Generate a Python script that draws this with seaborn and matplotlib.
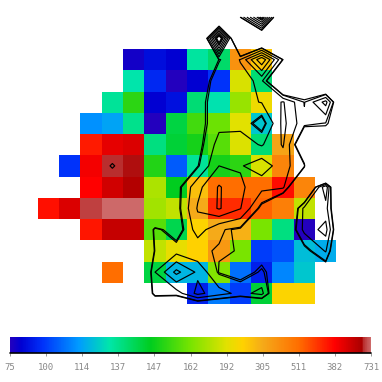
import matplotlib
matplotlib.use("Agg")
import matplotlib.pyplot as plt
import numpy as np
import seaborn as sns
from matplotlib.colors import LinearSegmentedColormap

n = np.nan

tick_labels = ["75", "100", "114", "137", "147", "162", "192", "305", "511", "382", "731"]

# cell values, as position on the colour scale (0-10)
cells = np.array([
    [n, n, n, n, n, n, n, n, n, n, n, n, n, n, n],
    [n, n, n, n, n, n, n, n, n, n, n, n, n, n, n],
    [n, n, n, n, .15, .45, .3, 2.85, 3.3, 7.4, 6.6, n, n, n, n],
    [n, n, n, n, 2.75, .8, 0, .3, .9, 5.9, 3.2, n, n, n, n],
    [n, n, n, 2.9, 4.3, .3, .5, 3.2, 2.7, 5.3, 6.2, n, n, n, n],
    [n, n, 1.8, 2.0, 3.0, 0, 3.6, 4.5, 4.9, 6.0, 2.4, n, n, n, n],
    [n, n, 8.75, 9.2, 9.3, 3.1, 3.7, 4.1, 4.7, 5.95, 3.2, 7.1, n, n, n],
    [n, .9, 9.1, 9.8, 9.75, 4.2, 1.3, 2.9, 4.1, 4.3, 5.9, 7.6, n, n, n],
    [n, n, 9.0, 9.4, 9.65, 5.5, 3.9, 6.7, 8.0, 8.0, 8.0, 8.9, 7.6, n, n],
    [8.85, 9.3, 9.85, 10, 10, 5.4, 5.7, 7.0, 8.6, 8.6, 8.1, 7.7, 5.7, n, n],
    [n, n, 8.8, 9.5, 9.5, 4.7, 3.5, 6.4, 7.0, 6.9, 5.0, 3.1, 0, n, n],
    [n, n, n, n, n, 5.7, 6.1, 6.45, 7.3, 5.0, 1.0, 1.2, 2.3, 2.1, n],
    [n, n, n, 8.0, n, 3.6, 2.2, 2.2, 5.1, 1.5, .7, 1.7, 2.4, n, n],
    [n, n, n, n, n, n, n, .7, 1.6, 1.0, 3.7, 6.4, 6.4, n, n],
    [n, n, n, n, n, n, n, n, n, n, n, n, n, n, n],
])

# second field, drawn as contour lines on the same grid
field = np.array([
    [.6, .6, .6, .6, .6, .6, .6, .6, -4.6, 1.05, 7.5, -3.9, .6, .6, .6],
    [.6, .6, .6, .6, .6, .6, .6, -4.6, 8.5, -4.6, -3, .6, .6, .6, .6],
    [.6, .6, .6, .6, .6, .6, .6, -.5, 1.02, 2.05, 5.9, 1.0, .6, .6, .6],
    [.6, .6, .6, .6, .6, .6, .6, .14, 1.7, 1.7, 2.2, -3, .6, -3, .6],
    [.6, .6, .6, .6, .6, .6, .6, .6, 1.7, 1.7, 2.05, 3.1, 1.05, 3.4, -3],
    [.6, .6, .6, .6, .6, .6, .6, .6, 1.7, 1.7, .5, 3.3, 1.3, 1.05, .6],
    [.6, .6, .6, .6, .6, .6, .6, .6, 2.4, 2.5, 1.9, 3.1, -.6, .6, .6],
    [.6, .6, .6, 1.05, .6, .6, .6, .95, 3.0, 2.9, 3.6, 2.4, 1.2, -12, .6],
    [.6, .6, .6, .6, .6, .6, .6, 2.7, 4.1, 3.2, 2.3, 2.2, -2.25, 4, -8.5],
    [.6, .6, .6, .6, .6, -3, .6, 3.1, 4.1, 3.05, .67, -1.9, 2.3, 2.4, -3],
    [.6, .6, .6, .6, -3, 1.4, .35, 2.5, 1.2, .85, .6, -.8, 2.3, 3.4, -3],
    [.6, .6, .6, .6, -3, 1.15, 1.6, 1.2, 1.05, .98, .6, .6, .6, 2.1, -3],
    [.6, .6, .6, .6, -3, 2.0, 4.3, 2.8, .95, .6, 1.2, .3, .6, 0, .6],
    [.6, .6, .6, .6, -3, 1.6, 1.5, 3.3, 2.4, 1.7, 2.3, -1.5, .6, .6, .6],
    [.6, .6, .6, .6, -3, -3, -3, -3, -3, -3, -3, -3, .6, .6, .6],
])
levels = [1, 1.1, 2, 3, 4, 5, 6, 6.5, 7]

stops = [
    (0, "#2300be"), (.3, "#0000d2"), (.9, "#0032fa"), (1.9, "#009bff"),
    (2.75, "#00e6aa"), (3.9, "#00cd1e"), (5.0, "#78e400"), (6.0, "#e1e100"),
    (6.45, "#ffd200"), (7.0, "#f5aa19"), (8.0, "#ff6e00"), (9.0, "#ff0000"),
    (9.75, "#aa0000"), (9.8, "#b92d2d"), (10, "#cd6969"),
]
cmap = LinearSegmentedColormap.from_list("scale", [(p / 10, c) for p, c in stops], N=512)

sns.set_style("white")
fig = plt.figure(figsize=(3.82, 3.82), dpi=100)
W = H = 382.0
ax = fig.add_axes([37.7 / W, 1 - 325.25 / H, 320 / W, 318.75 / H])
cax = fig.add_axes([10 / W, 1 - 352.7 / H, 361 / W, 15.7 / H])

sns.heatmap(
    cells, vmin=0, vmax=10, cmap=cmap, ax=ax, cbar_ax=cax,
    xticklabels=False, yticklabels=False,
    cbar_kws={"orientation": "horizontal", "ticks": list(range(11))},
)
xs = np.arange(field.shape[1]) + .5
ys = np.arange(field.shape[0]) + .5
ax.contour(xs, ys, field, levels=levels, colors="black", linewidths=.85, linestyles="solid")
ax.axis("off")

cbar = ax.collections[0].colorbar
cbar.outline.set_visible(False)
cax.axhline(0, color="black", lw=1.2, clip_on=False)
cbar.set_ticklabels(tick_labels)
cax.tick_params(axis="x", bottom=True, length=2.5, width=.6, color="#888888", pad=5,
                labelsize=6.5, labelcolor="#888888")
for t in cax.get_xticklabels():
    t.set_family("DejaVu Sans Mono")

fig.savefig("out.png", dpi=100)
